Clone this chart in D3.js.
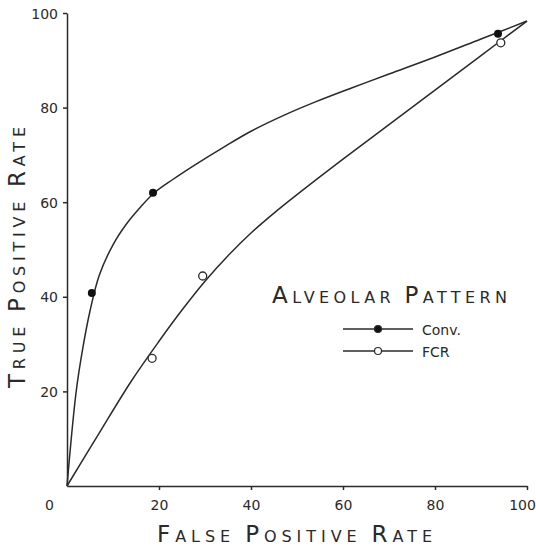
<!DOCTYPE html>
<html>
<head>
<meta charset="utf-8">
<script src="https://d3js.org/d3.v7.min.js"></script>
<style>
	body { margin: 0; background: white; }
	svg { display: block; }
	text { font-family: "DejaVu Sans", sans-serif; fill: #2a2a2a; }
	.axis path, .axis line { stroke: #2a2a2a; stroke-width: 1.5; }
	.axis text { font-size: 14px; font-family: "DejaVu Sans", sans-serif; fill: #2a2a2a; }
</style>
</head>
<body>
<svg id="chart" width="536" height="547"></svg>
<script>
	// data
	var xTicks = [0, 20, 40, 60, 80, 100]
	var yTicks = [20, 40, 60, 80, 100]
	var seriesNames = ["Conv.", "FCR"]

	// fitted curves
	var convCurve = [[0, 0], [2, 20], [3.5, 29.5], [5, 37], [7, 44.5], [10, 51], [13, 55.5], [16, 59], [19, 62], [23, 64.8], [28, 68], [34, 71.6], [40, 75], [47, 78.3], [54, 81.2], [62, 84.2], [70, 87.1], [80, 90.7], [90, 94.5], [100, 98.3]]
	var fcrCurve = [[0, 0], [7, 11.2], [14, 22.2], [20, 30.6], [25, 37.2], [30, 43.3], [35, 48.7], [40, 53.5], [45, 57.7], [50, 61.6], [60, 69.1], [70, 76.4], [80, 83.7], [90, 91], [100, 98.3]]

	// observed points
	var convPoints = [[5.4, 40.8], [18.7, 62], [93.7, 95.6]]
	var fcrPoints = [[18.5, 27], [29.5, 44.4], [94.3, 93.7]]

	var svg = d3.select("#chart")
	var ink = "#2a2a2a"

	svg.append("rect").attr("width", 536).attr("height", 547).attr("fill", "white")

	var x = d3.scaleLinear().domain([0, 100]).range([67, 527])
	var y = d3.scaleLinear().domain([0, 100]).range([486, 13])

	var xAxis = svg.append("g")
		.attr("class", "axis")
		.attr("transform", "translate(0," + y(0) + ")")
		.call(d3.axisBottom(x).tickValues(xTicks).tickSize(4).tickSizeOuter(0).tickPadding(10))
	xAxis.selectAll(".tick").filter(d => d == 0).select("line").remove()
	xAxis.selectAll(".tick").filter(d => d == 0).select("text").attr("dx", -18)
	xAxis.selectAll(".tick").filter(d => d == 100).select("text").attr("dx", -5)

	svg.append("g")
		.attr("class", "axis")
		.attr("transform", "translate(" + x(0) + ",0)")
		.call(d3.axisLeft(y).tickValues(yTicks).tickSize(4).tickSizeOuter(0).tickPadding(5))
		.selectAll("text").attr("dy", "0.36em")

	var line = d3.line()
		.x(d => x(d[0]))
		.y(d => y(d[1]))
		.curve(d3.curveCatmullRom.alpha(0.5))

	svg.append("path").datum(convCurve)
		.attr("d", line).attr("fill", "none").attr("stroke", ink).attr("stroke-width", 1.5)
	svg.append("path").datum(fcrCurve)
		.attr("d", line).attr("fill", "none").attr("stroke", ink).attr("stroke-width", 1.5)

	svg.selectAll(".conv").data(convPoints).enter().append("circle")
		.attr("cx", d => x(d[0])).attr("cy", d => y(d[1])).attr("r", 4)
		.attr("fill", "#111")
	svg.selectAll(".fcr").data(fcrPoints).enter().append("circle")
		.attr("cx", d => x(d[0])).attr("cy", d => y(d[1])).attr("r", 4)
		.attr("fill", "white").attr("stroke", ink).attr("stroke-width", 1.3)

	// small-caps style title, stretched to a target width
	function capsTitle(words, tx, ty, width, rotate) {
		var t = svg.append("text")
			.attr("transform", "translate(" + tx + "," + ty + ")" + (rotate ? " rotate(-90)" : ""))
		var n = 0
		words.forEach((w, i) => {
			if(i > 0) { t.append("tspan").attr("font-size", 16).text(" "); n++ }
			t.append("tspan").attr("font-size", 23).text(w[0])
			t.append("tspan").attr("font-size", 16).text(w.slice(1).toUpperCase())
			n += w.length
		})
		var natural = t.node().getComputedTextLength()
		t.attr("letter-spacing", (width - natural) / (n - 1))
		return t
	}

	capsTitle(["False", "Positive", "Rate"], 157, 542, 275, false)
	capsTitle(["True", "Positive", "Rate"], 25, 388, 261, true)
	capsTitle(["Alveolar", "Pattern"], 272, 303, 235, false)

	// legend
	var legend = svg.append("g")
	seriesNames.forEach((name, i) => {
		var ly = 329 + i * 22
		legend.append("line").attr("x1", 343).attr("x2", 413).attr("y1", ly).attr("y2", ly)
			.attr("stroke", ink).attr("stroke-width", 1.3)
		legend.append("circle").attr("cx", 378).attr("cy", ly).attr("r", 3.5)
			.attr("fill", i == 0 ? "#111" : "white").attr("stroke", ink).attr("stroke-width", 1.2)
		legend.append("text").attr("x", 422).attr("y", ly + 6).attr("font-size", 14).text(name)
	})
</script>
</body>
</html>
